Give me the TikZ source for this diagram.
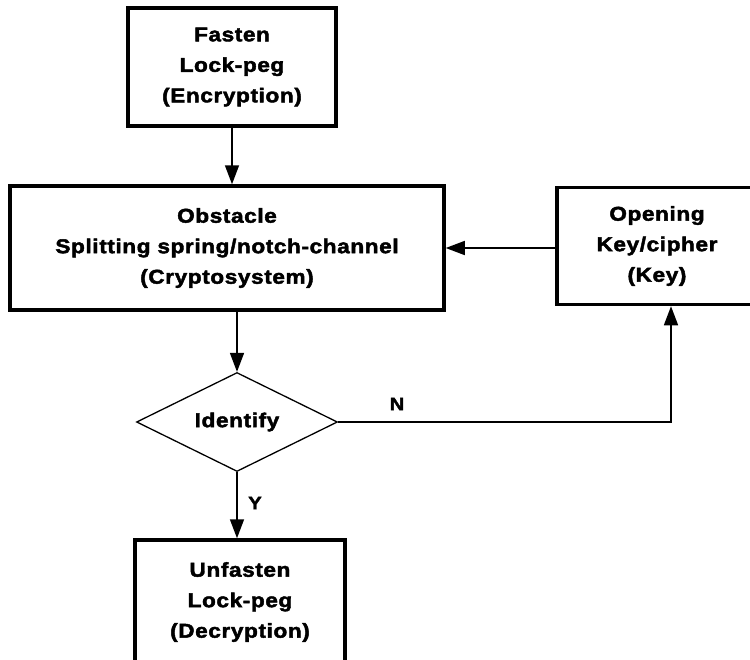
\documentclass[tikz,border=0pt]{standalone}
\usepackage{fontspec}
\setmainfont{Liberation Sans}
\newfontfamily\hb[LetterSpace=3,BoldFeatures={FakeBold=2.2,FakeStretch=1.13}]{Liberation Sans}
\usetikzlibrary{shapes.geometric,arrows.meta}
\begin{document}
\begin{tikzpicture}[x=1pt,y=-1pt,
  box/.style={draw,line width=3.5pt,rectangle,align=center,inner sep=0pt,
    font=\hb\bfseries\fontsize{20}{30.5}\selectfont},
  decide/.style={draw,line width=1.3pt,diamond,aspect=2.03,inner sep=0pt,
    minimum width=201pt,minimum height=99pt,font=\hb\bfseries\fontsize{20}{24}\selectfont},
  conn/.style={line width=1.6pt,-{Triangle[length=19pt,width=14pt]}},
  lbl/.style={font=\hb\bfseries\fontsize{18}{20}\selectfont,inner sep=0pt}]
\useasboundingbox (0,0) rectangle (750,659);
\clip (0,0) rectangle (750,659);
\fill[white] (0,0) rectangle (750,659);
\node[box,minimum width=208pt,minimum height=118pt] (enc) at (232,67)
  {Fasten\\Lock-peg\\(Encryption)};
\node[box,minimum width=434pt,minimum height=124pt] (obs) at (227,248)
  {Obstacle\\Splitting spring/notch-channel\\(Cryptosystem)};
\node[box,minimum width=200pt,minimum height=117pt] (key) at (657,246)
  {Opening\\Key/cipher\\(Key)};
\node[decide] (idf) at (237,422) {Identify};
\node[box,minimum width=210pt,minimum height=124pt] (dec) at (240,602)
  {Unfasten\\Lock-peg\\(Decryption)};
\coordinate (turn) at (671,422);
\draw[conn] (enc.south) -- (enc.south |- obs.north);
\draw[conn] (key.west |- 0,248) -- (obs.east |- 0,248);
\draw[conn] (idf.north |- obs.south) -- (idf.north);
\draw[conn] (idf.east) -- (turn) -- (turn |- key.south);
\draw[conn] (idf.south) -- (idf.south |- dec.north);
\node[lbl] (nlab) at (397,404) {N};
\node[lbl] (ylab) at (255,503) {Y};
\end{tikzpicture}
\end{document}
